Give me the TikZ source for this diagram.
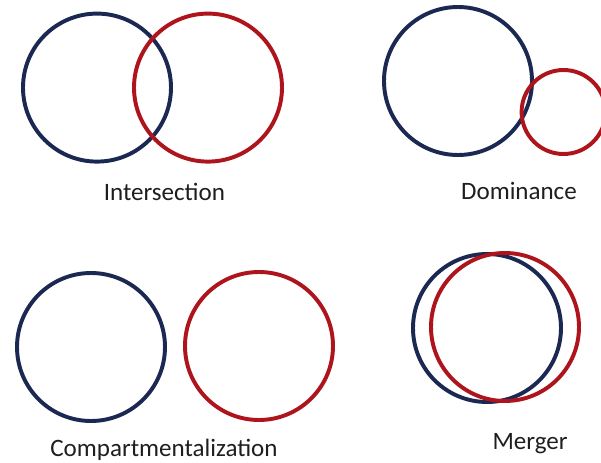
\documentclass[tikz,border=0pt]{standalone}
\usepackage{fontspec}
\setmainfont{Carlito}
\usetikzlibrary{positioning}
\definecolor{setA}{HTML}{1A2852}
\definecolor{setB}{HTML}{AE141C}
\definecolor{ink}{HTML}{1E1E1E}
\tikzset{
  % ---- sets ------------------------------------------------------
  bigset/.style     = {circle, line width=2.8pt, inner sep=0pt,
                       minimum size=3.70cm},
  smallset/.style   = {bigset, minimum size=2.10cm},
  seta/.style       = {draw=setA},
  setb/.style       = {draw=setB},
  % ---- captions --------------------------------------------------
  caption/.style    = {font=\fontsize{17.8}{20}\selectfont, text=ink,
                       inner sep=0pt},
}

\begin{document}
\begin{tikzpicture}
  \useasboundingbox (0,0) rectangle (15.025,-11.575);
  % intersection
  \node[bigset, seta] (iA) at (2.425,-2.19) {};
  \node[bigset, setb] (iB) at (5.20,-2.19) {};
  \node[caption] (iCap) at (4.11,-4.80) {Intersection};
  % dominance
  \node[bigset, seta] (dA) at (11.45,-2.025) {};
  \node[smallset, setb] (dB) at (14.09,-2.80) {};
  \node[caption] (dCap) at (12.975,-4.775) {Dominance};
  % compartmentalization
  \node[bigset, seta] (cA) at (2.275,-8.675) {};
  \node[bigset, setb] (cB) at (6.475,-8.65) {};
  \node[caption] (cCap) at (4.10,-11.25) {Compartmentalization};
  % merger
  \node[bigset, seta] (mA) at (12.175,-8.20) {};
  \node[bigset, setb] (mB) at (12.625,-8.175) {};
  \node[caption] (mCap) at (13.25,-11.10) {Merger};
\end{tikzpicture}
\end{document}
